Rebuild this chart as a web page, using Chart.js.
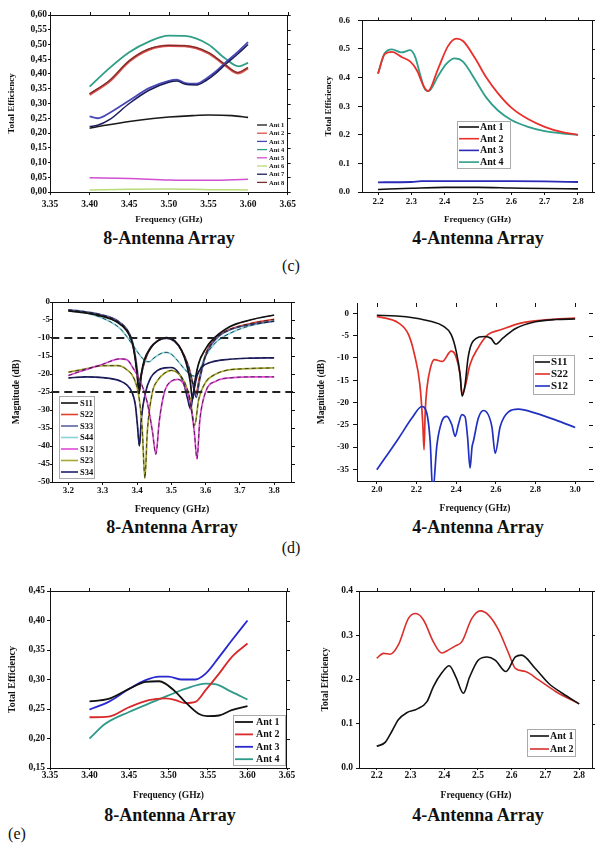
<!DOCTYPE html>
<html lang="en">
<head>
<meta charset="UTF-8">
<title>Total efficiency and S-parameters, 8- and 4-antenna arrays</title>
<script src="https://cdn.jsdelivr.net/npm/chart.js"></script>
<style>
  body { margin: 0; background: #fff; }
  #page { position: relative; width: 595px; height: 845px; overflow: hidden; background: #fff; }
  #page canvas { position: absolute; }
  .cap { position: absolute; font-family: "Liberation Serif", "Times New Roman", serif; color: #111; transform: translate(-50%, -50%); white-space: nowrap; }
  .sub { font-size: 18px; font-weight: bold; }
  .tag { font-size: 16px; }
</style>
</head>
<body>
<div id="page">
  <div class="cap sub" style="left:169px;top:238px">8-Antenna Array</div>
  <div class="cap sub" style="left:478px;top:238px">4-Antenna Array</div>
  <div class="cap tag" style="left:291px;top:266px">(c)</div>
  <div class="cap sub" style="left:172px;top:527px">8-Antenna Array</div>
  <div class="cap sub" style="left:478px;top:527px">4-Antenna Array</div>
  <div class="cap tag" style="left:291px;top:548px">(d)</div>
  <div class="cap sub" style="left:170px;top:815px">8-Antenna Array</div>
  <div class="cap sub" style="left:478px;top:815px">4-Antenna Array</div>
  <div class="cap tag" style="left:17px;top:834px">(e)</div>
</div>
<script>
// ---- (c) total efficiency, 8-antenna array ----
const c8FreqTicks = [3.35, 3.40, 3.45, 3.50, 3.55, 3.60, 3.65];
const c8EffTicks = [0, 0.05, 0.10, 0.15, 0.20, 0.25, 0.30, 0.35, 0.40, 0.45, 0.50, 0.55, 0.60];
const c8Ant1F = [3.40, 3.42, 3.45, 3.48, 3.50, 3.53, 3.55, 3.58, 3.60];
const c8Ant1E = [0.216, 0.226, 0.239, 0.249, 0.254, 0.259, 0.261, 0.259, 0.253];
const c8Ant2F = [3.40, 3.425, 3.45, 3.475, 3.50, 3.52, 3.55, 3.57, 3.587, 3.60];
const c8Ant2E = [0.330, 0.375, 0.443, 0.483, 0.496, 0.495, 0.471, 0.432, 0.403, 0.420];
const c8Ant8E = [0.333, 0.378, 0.445, 0.485, 0.497, 0.496, 0.473, 0.434, 0.405, 0.422];
const c8Ant4F = [3.40, 3.425, 3.45, 3.475, 3.50, 3.52, 3.55, 3.57, 3.588, 3.60];
const c8Ant4E = [0.357, 0.420, 0.474, 0.510, 0.530, 0.529, 0.500, 0.455, 0.426, 0.438];
const c8Ant3F = [3.40, 3.41, 3.425, 3.45, 3.475, 3.50, 3.51, 3.52, 3.535, 3.547, 3.56, 3.572, 3.587, 3.60];
const c8Ant3E = [0.256, 0.250, 0.268, 0.310, 0.352, 0.377, 0.381, 0.370, 0.367, 0.384, 0.410, 0.440, 0.475, 0.508];
const c8Ant7E = [0.222, 0.226, 0.245, 0.300, 0.345, 0.372, 0.376, 0.366, 0.363, 0.378, 0.404, 0.434, 0.468, 0.500];
const c8Ant5F = [3.40, 3.45, 3.50, 3.55, 3.60];
const c8Ant5E = [0.048, 0.046, 0.041, 0.040, 0.043];
const c8Ant6E = [0.007, 0.009, 0.010, 0.008, 0.007];

// ---- (c) total efficiency, 4-antenna array ----
const c4FreqTicks = [2.2, 2.3, 2.4, 2.5, 2.6, 2.7, 2.8];
const c4EffTicks = [0, 0.1, 0.2, 0.3, 0.4, 0.5, 0.6];
const c4Ant1F = [2.20, 2.30, 2.40, 2.50, 2.60, 2.70, 2.80];
const c4Ant1E = [0.009, 0.013, 0.016, 0.016, 0.014, 0.012, 0.011];
const c4Ant2F = [2.20, 2.22, 2.242, 2.272, 2.297, 2.317, 2.337, 2.35, 2.38, 2.41, 2.435, 2.455, 2.49, 2.525, 2.56, 2.60, 2.65, 2.70, 2.75, 2.80];
const c4Ant2E = [0.414, 0.482, 0.490, 0.471, 0.456, 0.425, 0.370, 0.353, 0.430, 0.510, 0.536, 0.528, 0.470, 0.400, 0.345, 0.295, 0.255, 0.228, 0.210, 0.200];
const c4Ant3F = [2.20, 2.30, 2.33, 2.40, 2.50, 2.60, 2.70, 2.80];
const c4Ant3E = [0.034, 0.035, 0.038, 0.038, 0.038, 0.038, 0.037, 0.035];
const c4Ant4F = [2.20, 2.22, 2.242, 2.27, 2.297, 2.312, 2.327, 2.342, 2.352, 2.38, 2.405, 2.43, 2.455, 2.49, 2.525, 2.56, 2.60, 2.65, 2.70, 2.75, 2.80];
const c4Ant4E = [0.414, 0.485, 0.499, 0.488, 0.496, 0.471, 0.408, 0.357, 0.353, 0.405, 0.448, 0.467, 0.456, 0.395, 0.330, 0.285, 0.252, 0.228, 0.213, 0.205, 0.200];

// ---- (d) S-parameters, 8-antenna array ----
const d8FreqTicks = [3.2, 3.3, 3.4, 3.5, 3.6, 3.7, 3.8];
const d8MagTicks = [0, -5, -10, -15, -20, -25, -30, -35, -40, -45, -50];
const d8LimitF = [3.15, 3.86];
const d8Limit10 = [-10, -10];
const d8Limit25 = [-25, -25];
const d8S11F = [3.20, 3.25, 3.30, 3.34, 3.37, 3.385, 3.395, 3.401, 3.406, 3.411, 3.42, 3.44, 3.46, 3.485, 3.51, 3.53, 3.545, 3.555, 3.562, 3.569, 3.58, 3.60, 3.615, 3.67, 3.73, 3.80];
const d8S11M = [-2.5, -3.0, -4.0, -5.5, -8.0, -11, -16, -21, -25.5, -21, -16.5, -12.8, -10.8, -9.9, -10.8, -13.5, -17.5, -22, -27, -22, -17, -13, -11, -6.9, -5.0, -3.6];
const d8S22F = [3.20, 3.25, 3.30, 3.34, 3.37, 3.385, 3.395, 3.402, 3.406, 3.411, 3.425, 3.44, 3.46, 3.485, 3.51, 3.53, 3.55, 3.563, 3.572, 3.581, 3.60, 3.63, 3.67, 3.73, 3.80];
const d8S22M = [-2.4, -2.9, -3.8, -5.2, -7.7, -10.7, -15.5, -21, -25, -21, -15.8, -12.7, -10.8, -10.0, -10.9, -13.4, -17.8, -22.5, -25.5, -21.5, -14.5, -10, -7.6, -6.0, -4.8];
const d8S33F = [3.20, 3.25, 3.30, 3.34, 3.37, 3.385, 3.395, 3.402, 3.407, 3.413, 3.425, 3.44, 3.46, 3.485, 3.51, 3.53, 3.55, 3.563, 3.573, 3.582, 3.60, 3.63, 3.67, 3.73, 3.80];
const d8S33M = [-2.2, -2.7, -3.6, -5.0, -7.5, -10.5, -15, -20, -24, -20, -15.5, -12.5, -10.8, -10.1, -11, -13.5, -18, -23, -26.5, -22, -15, -10.3, -7.8, -6.3, -5.3];
const d8S44F = [3.20, 3.25, 3.30, 3.35, 3.37, 3.39, 3.41, 3.425, 3.435, 3.45, 3.47, 3.485, 3.50, 3.52, 3.54, 3.56, 3.57, 3.58, 3.60, 3.63, 3.68, 3.73, 3.80];
const d8S44M = [-2.2, -3.0, -4.5, -7.3, -9.6, -12.3, -15, -16.4, -16.6, -15.5, -14.3, -14, -14.5, -16.5, -18.8, -20.4, -20.6, -19.5, -15, -11.2, -8.3, -6.6, -5.3];
const d8S12F = [3.20, 3.25, 3.30, 3.35, 3.37, 3.39, 3.41, 3.43, 3.445, 3.455, 3.465, 3.48, 3.50, 3.52, 3.54, 3.555, 3.567, 3.575, 3.583, 3.60, 3.63, 3.68, 3.74, 3.80];
const d8S12M = [-20.4, -18.8, -17.3, -15.8, -16, -18.6, -22, -28, -36, -42.3, -33, -25, -22, -21.5, -23.5, -28, -36, -43.6, -33, -25, -22, -21, -20.8, -20.8];
const d8S23F = [3.20, 3.25, 3.30, 3.345, 3.37, 3.39, 3.405, 3.415, 3.423, 3.43, 3.445, 3.46, 3.48, 3.50, 3.52, 3.54, 3.555, 3.568, 3.58, 3.60, 3.63, 3.66, 3.72, 3.80];
const d8S23M = [-19.5, -18.6, -17.7, -17.7, -18.8, -21, -26, -35, -49, -36, -25, -21.8, -19.8, -19, -19.8, -22.5, -27, -34.3, -27, -22.3, -20, -19, -18.5, -18.3];
const d8S34F = [3.20, 3.25, 3.30, 3.35, 3.37, 3.385, 3.395, 3.401, 3.407, 3.413, 3.425, 3.44, 3.46, 3.48, 3.50, 3.52, 3.535, 3.548, 3.556, 3.563, 3.575, 3.59, 3.613, 3.67, 3.73, 3.80];
const d8S34M = [-21.1, -20.8, -21.0, -21.9, -23.0, -25.0, -28.5, -34, -40, -32, -25, -21, -19, -18.3, -18.2, -19.5, -22.2, -27, -29.7, -26, -20.5, -18, -16.8, -15.9, -15.6, -15.5];

// ---- (d) S-parameters, 4-antenna array ----
const d4FreqTicks = [2.0, 2.2, 2.4, 2.6, 2.8, 3.0];
const d4MagTicks = [0, -5, -10, -15, -20, -25, -30, -35];
const d4S11F = [2.00, 2.10, 2.19, 2.27, 2.335, 2.375, 2.40, 2.42, 2.43, 2.445, 2.46, 2.485, 2.545, 2.575, 2.60, 2.635, 2.70, 2.80, 2.90, 3.00];
const d4S11M = [-0.45, -0.6, -1.05, -1.8, -2.9, -4.8, -8.5, -13.8, -18.6, -16, -10, -6.3, -5.2, -5.6, -6.9, -5.6, -3.4, -1.9, -1.4, -1.3];
const d4S22F = [2.00, 2.11, 2.16, 2.19, 2.217, 2.232, 2.238, 2.244, 2.252, 2.27, 2.29, 2.33, 2.375, 2.395, 2.42, 2.43, 2.445, 2.47, 2.51, 2.56, 2.625, 2.725, 2.85, 3.00];
const d4S22M = [-0.7, -2.2, -4.8, -9.3, -16, -25, -30.6, -22, -17, -12.3, -10.4, -10.8, -8.5, -9.3, -13.8, -18.2, -16.5, -11.5, -7.8, -4.8, -3.7, -2.2, -1.5, -1.1];
const d4S12F = [2.00, 2.11, 2.177, 2.227, 2.252, 2.269, 2.282, 2.303, 2.328, 2.353, 2.378, 2.395, 2.411, 2.429, 2.445, 2.458, 2.47, 2.48, 2.487, 2.512, 2.538, 2.58, 2.597, 2.622, 2.664, 2.714, 2.80, 2.90, 3.00];
const d4S12M = [-35.1, -28, -23.5, -20.9, -22.4, -28.7, -40, -29.5, -24.2, -23.1, -25, -27.6, -25, -22.7, -23.2, -28, -34.7, -30, -28.7, -23.5, -21.8, -25.4, -31.4, -25.4, -22.1, -21.5, -22.4, -23.9, -25.6];

// ---- (e) total efficiency, 8-antenna array ----
const e8FreqTicks = [3.35, 3.40, 3.45, 3.50, 3.55, 3.60, 3.65];
const e8EffTicks = [0.15, 0.20, 0.25, 0.30, 0.35, 0.40, 0.45];
const e8Ant1F = [3.40, 3.424, 3.45, 3.471, 3.488, 3.496, 3.509, 3.521, 3.538, 3.549, 3.564, 3.58, 3.60];
const e8Ant1E = [0.263, 0.267, 0.284, 0.296, 0.297, 0.293, 0.279, 0.262, 0.242, 0.238, 0.239, 0.248, 0.255];
const e8Ant2F = [3.40, 3.424, 3.45, 3.475, 3.496, 3.509, 3.521, 3.534, 3.547, 3.564, 3.58, 3.60];
const e8Ant2E = [0.236, 0.237, 0.253, 0.265, 0.268, 0.265, 0.260, 0.262, 0.282, 0.310, 0.338, 0.361];
const e8Ant3F = [3.40, 3.424, 3.45, 3.471, 3.488, 3.50, 3.517, 3.534, 3.547, 3.564, 3.58, 3.60];
const e8Ant3E = [0.249, 0.262, 0.284, 0.299, 0.305, 0.305, 0.300, 0.300, 0.310, 0.338, 0.366, 0.400];
const e8Ant4F = [3.40, 3.42, 3.45, 3.475, 3.50, 3.521, 3.547, 3.559, 3.58, 3.60];
const e8Ant4E = [0.200, 0.225, 0.245, 0.259, 0.273, 0.284, 0.293, 0.292, 0.279, 0.266];

// ---- (e) total efficiency, 4-antenna array ----
const e4FreqTicks = [2.2, 2.3, 2.4, 2.5, 2.6, 2.7, 2.8];
const e4EffTicks = [0, 0.1, 0.2, 0.3, 0.4];
const e4Ant1F = [2.20, 2.225, 2.245, 2.264, 2.289, 2.319, 2.349, 2.368, 2.393, 2.415, 2.435, 2.457, 2.475, 2.50, 2.527, 2.551, 2.583, 2.611, 2.629, 2.67, 2.71, 2.75, 2.80];
const e4Ant1E = [0.049, 0.058, 0.083, 0.109, 0.125, 0.133, 0.150, 0.184, 0.215, 0.231, 0.205, 0.169, 0.205, 0.243, 0.251, 0.244, 0.218, 0.251, 0.255, 0.225, 0.191, 0.169, 0.145];
const e4Ant2F = [2.20, 2.22, 2.24, 2.264, 2.294, 2.316, 2.339, 2.368, 2.393, 2.413, 2.433, 2.452, 2.482, 2.507, 2.532, 2.561, 2.591, 2.611, 2.641, 2.68, 2.73, 2.80];
const e4Ant2E = [0.248, 0.259, 0.257, 0.278, 0.338, 0.349, 0.334, 0.285, 0.260, 0.267, 0.276, 0.285, 0.338, 0.355, 0.345, 0.312, 0.259, 0.225, 0.218, 0.199, 0.173, 0.145];

const SERIF = '"Liberation Serif", "Times New Roman", serif';
const page = document.getElementById('page');
const fmt2c = v => v.toFixed(2).replace('.', ',');
const fmt2 = v => v.toFixed(2);
const fmt1 = v => v.toFixed(1);
const fmt0 = v => String(v);

function makePanel(p) {
  const [cx, cy, cw, ch] = p.box;
  const [pl, pt, pr, pb] = p.plot;
  const canvas = document.createElement('canvas');
  canvas.width = cw;
  canvas.height = ch;
  canvas.style.left = cx + 'px';
  canvas.style.top = cy + 'px';
  page.appendChild(canvas);

  const font = s => ({ family: SERIF, size: s, weight: 'bold' });
  const axis = (a, isX) => ({
    type: 'linear',
    min: a.min,
    max: a.max,
    afterBuildTicks: s => { s.ticks = a.ticks.map(v => ({ value: v })); },
    afterFit: s => { if (isX) s.height = cy + ch - pb; else s.width = pl - cx; },
    grid: { drawOnChartArea: false, tickLength: a.tl, color: '#111', lineWidth: 1 },
    border: { display: true, color: '#111', width: 1 },
    ticks: { color: '#111', font: font(a.size), padding: a.pad, autoSkip: false, maxRotation: 0, callback: v => a.fmt(v) },
    title: { display: true, text: a.title, color: '#111', font: font(a.titleSize), padding: 0 }
  });

  const datasets = p.series.map(s => ({
    label: s.label,
    data: s.f.map((f, i) => ({ x: f, y: s.v[i] })),
    borderColor: s.color,
    borderWidth: s.w || 1.6,
    borderDash: s.dash || [],
    pointRadius: 0,
    cubicInterpolationMode: 'monotone',
    fill: false,
    order: s.order === undefined ? 1 : s.order,
    clip: 1
  }));

  // box frame with mirrored ticks on top and right
  const frame = {
    id: 'frame',
    afterDraw(chart) {
      const { left, top, right, bottom } = chart.chartArea;
      const ctx = chart.ctx;
      const xs = chart.scales.x, ys = chart.scales.y;
      ctx.save();
      ctx.strokeStyle = '#111';
      ctx.lineWidth = 1;
      ctx.beginPath();
      if (p.frameLines) {
        ctx.moveTo(left, Math.round(top) + 0.5); ctx.lineTo(right, Math.round(top) + 0.5);
        ctx.moveTo(Math.round(right) - 0.5, top); ctx.lineTo(Math.round(right) - 0.5, bottom);
      }
      const tk = p.frameTick;
      xs.ticks.forEach(t => {
        const px = Math.round(xs.getPixelForValue(t.value)) + 0.5;
        ctx.moveTo(px, top); ctx.lineTo(px, top - tk);
      });
      ys.ticks.forEach(t => {
        const py = Math.round(ys.getPixelForValue(t.value)) + 0.5;
        ctx.moveTo(right, py); ctx.lineTo(right + tk, py);
      });
      ctx.stroke();
      ctx.restore();
    }
  };

  // legend drawn inside the plot
  const lg = p.legend;
  const legend = {
    id: 'innerLegend',
    afterDatasetsDraw(chart) {
      const ctx = chart.ctx;
      ctx.save();
      if (lg.box) {
        const [bx, by, bw, bh] = lg.box;
        ctx.fillStyle = '#fff';
        ctx.fillRect(bx - cx, by - cy, bw, bh);
        ctx.strokeStyle = '#aaa';
        ctx.lineWidth = 1;
        ctx.strokeRect(Math.round(bx - cx) + 0.5, Math.round(by - cy) + 0.5, bw, bh);
      }
      ctx.font = `bold ${lg.size}px ${SERIF}`;
      ctx.textBaseline = 'middle';
      ctx.textAlign = 'left';
      lg.labels.forEach((label, i) => {
        const s = p.series.find(d => d.label === label);
        const y = lg.y - cy + i * lg.step;
        const x = lg.x - cx;
        ctx.strokeStyle = s.color;
        ctx.lineWidth = lg.lw || 1.6;
        ctx.beginPath();
        ctx.moveTo(x, y); ctx.lineTo(x + lg.len, y);
        ctx.stroke();
        ctx.fillStyle = '#111';
        ctx.fillText(label, x + lg.len + lg.gap, y + 0.5);
      });
      ctx.restore();
    }
  };

  new Chart(canvas, {
    type: 'line',
    data: { datasets },
    options: {
      responsive: false,
      animation: false,
      events: [],
      layout: { padding: { top: pt - cy, right: cx + cw - pr, left: 0, bottom: 0 } },
      scales: { x: axis(p.x, true), y: axis(p.y, false) },
      plugins: { legend: { display: false }, tooltip: { enabled: false } }
    },
    plugins: [frame, legend]
  });
}

// (c) 8-antenna
makePanel({
  box: [6, 5, 294, 220], plot: [50, 15, 288, 192],
  frameLines: true, frameTick: 3,
  x: { min: 3.35, max: 3.65, ticks: c8FreqTicks, fmt: fmt2, size: 9.5, tl: 3, pad: 4, title: 'Frequency (GHz)', titleSize: 9 },
  y: { min: 0, max: 0.6, ticks: c8EffTicks, fmt: fmt2c, size: 9.5, tl: 2, pad: 1, title: 'Total Efficiency', titleSize: 9 },
  series: [
    { label: 'Ant 8', f: c8Ant2F, v: c8Ant8E, color: '#7a2e2e', w: 1.3 },
    { label: 'Ant 2', f: c8Ant2F, v: c8Ant2E, color: '#e0504a', w: 2.6, order: 2 },
    { label: 'Ant 7', f: c8Ant3F, v: c8Ant7E, color: '#1c1c5c', w: 1.5 },
    { label: 'Ant 3', f: c8Ant3F, v: c8Ant3E, color: '#4848b8', w: 1.8 },
    { label: 'Ant 4', f: c8Ant4F, v: c8Ant4E, color: '#2f9e86', w: 1.8 },
    { label: 'Ant 1', f: c8Ant1F, v: c8Ant1E, color: '#1a1a1a', w: 1.6 },
    { label: 'Ant 5', f: c8Ant5F, v: c8Ant5E, color: '#d24fd0', w: 1.5 },
    { label: 'Ant 6', f: c8Ant5F, v: c8Ant6E, color: '#b8dc7a', w: 1.5 }
  ],
  legend: { x: 257, y: 125, step: 8.2, len: 10, gap: 2, size: 6.5, lw: 1.3,
    labels: ['Ant 1', 'Ant 2', 'Ant 3', 'Ant 4', 'Ant 5', 'Ant 6', 'Ant 7', 'Ant 8'] }
});

// (c) 4-antenna
makePanel({
  box: [323, 7, 272, 218], plot: [362, 17, 593, 192],
  frameLines: true, frameTick: 3,
  x: { min: 2.152, max: 2.845, ticks: c4FreqTicks, fmt: fmt1, size: 9, tl: 3, pad: 1, title: 'Frequency (GHz)', titleSize: 9 },
  y: { min: 0, max: 0.6, ticks: c4EffTicks, fmt: fmt1, size: 9, tl: 4, pad: 8, title: 'Total Efficiency', titleSize: 9 },
  series: [
    { label: 'Ant 2', f: c4Ant2F, v: c4Ant2E, color: '#e8302c', w: 1.8 },
    { label: 'Ant 4', f: c4Ant4F, v: c4Ant4E, color: '#2f9e8a', w: 1.8 },
    { label: 'Ant 3', f: c4Ant3F, v: c4Ant3E, color: '#2a2ab8', w: 1.8 },
    { label: 'Ant 1', f: c4Ant1F, v: c4Ant1E, color: '#111111', w: 1.6 }
  ],
  legend: { x: 459, y: 127, step: 11.7, len: 20, gap: 1, size: 10, lw: 1.6, box: [457, 121, 53, 47],
    labels: ['Ant 1', 'Ant 2', 'Ant 3', 'Ant 4'] }
});

// (d) 8-antenna: coloured curves with black dashed overlays, -10 / -25 dB guide lines
const d8Curves = [
  { label: 'S12', f: d8S12F, v: d8S12M, color: '#e24ad8' },
  { label: 'S23', f: d8S23F, v: d8S23M, color: '#a8a830' },
  { label: 'S34', f: d8S34F, v: d8S34M, color: '#202070' },
  { label: 'S11', f: d8S11F, v: d8S11M, color: '#111111' },
  { label: 'S33', f: d8S33F, v: d8S33M, color: '#5a64a8' },
  { label: 'S44', f: d8S44F, v: d8S44M, color: '#86d4dc' },
  { label: 'S22', f: d8S22F, v: d8S22M, color: '#e2402a' }
];
makePanel({
  box: [11, 292, 286, 223], plot: [52, 302, 292, 482],
  frameLines: true, frameTick: 3,
  x: { min: 3.152, max: 3.852, ticks: d8FreqTicks, fmt: fmt1, size: 9, tl: 3, pad: 0, title: 'Frequency (GHz)', titleSize: 10 },
  y: { min: -50, max: 0, ticks: d8MagTicks, fmt: fmt0, size: 9, tl: 2, pad: 0, title: 'Magnitude (dB)', titleSize: 9.5 },
  series: [
    { label: 'lim10', f: d8LimitF, v: d8Limit10, color: '#222', w: 2, dash: [8, 5], order: 0 },
    { label: 'lim25', f: d8LimitF, v: d8Limit25, color: '#222', w: 2, dash: [8, 5], order: 0 },
    ...d8Curves.map(s => ({ ...s, label: s.label + '-sim', color: 'rgba(20,20,20,0.8)', w: 0.9, dash: [4, 3], order: 0 })),
    ...d8Curves.map(s => ({ ...s, w: 1.7, order: 1 }))
  ],
  legend: { x: 61, y: 403, step: 11.5, len: 17, gap: 2, size: 8.5, lw: 1.6, box: [59, 396, 35, 82],
    labels: ['S11', 'S22', 'S33', 'S44', 'S12', 'S23', 'S34'] }
});

// (d) 4-antenna
makePanel({
  box: [316, 293, 279, 221], plot: [357, 303, 593, 481],
  frameLines: false, frameTick: -4,
  x: { min: 1.9, max: 3.09, ticks: d4FreqTicks, fmt: fmt1, size: 9, tl: 3, pad: 0, title: 'Frequency (GHz)', titleSize: 9.5 },
  y: { min: -37.6, max: 2.3, ticks: d4MagTicks, fmt: fmt0, size: 9, tl: 4, pad: 4, title: 'Magnitude (dB)', titleSize: 9.5 },
  series: [
    { label: 'S11', f: d4S11F, v: d4S11M, color: '#111111', w: 1.6 },
    { label: 'S12', f: d4S12F, v: d4S12M, color: '#2030c0', w: 1.7 },
    { label: 'S22', f: d4S22F, v: d4S22M, color: '#e03028', w: 1.7 }
  ],
  legend: { x: 535, y: 362, step: 12, len: 15, gap: 1, size: 11, lw: 1.6, box: [533, 355, 41, 39],
    labels: ['S11', 'S22', 'S12'] }
});

// (e) 8-antenna
makePanel({
  box: [6, 581, 294, 220], plot: [50, 591, 287, 768],
  frameLines: true, frameTick: 3,
  x: { min: 3.35, max: 3.65, ticks: e8FreqTicks, fmt: fmt2, size: 9.5, tl: 2, pad: 0, title: 'Frequency (GHz)', titleSize: 9.5 },
  y: { min: 0.15, max: 0.45, ticks: e8EffTicks, fmt: fmt2c, size: 9.5, tl: 3, pad: 2, title: 'Total Efficiency', titleSize: 10 },
  series: [
    { label: 'Ant 1', f: e8Ant1F, v: e8Ant1E, color: '#111111', w: 1.8 },
    { label: 'Ant 2', f: e8Ant2F, v: e8Ant2E, color: '#d8282a', w: 1.8 },
    { label: 'Ant 3', f: e8Ant3F, v: e8Ant3E, color: '#2828d0', w: 1.8 },
    { label: 'Ant 4', f: e8Ant4F, v: e8Ant4E, color: '#2f9a8a', w: 1.8 }
  ],
  legend: { x: 235, y: 722, step: 12.4, len: 18, gap: 3, size: 10, lw: 1.8, box: [233, 715, 52, 50],
    labels: ['Ant 1', 'Ant 2', 'Ant 3', 'Ant 4'] }
});

// (e) 4-antenna
makePanel({
  box: [320, 581, 275, 220], plot: [359, 591, 593, 768],
  frameLines: true, frameTick: 3,
  x: { min: 2.1475, max: 2.841, ticks: e4FreqTicks, fmt: fmt1, size: 9.5, tl: 2, pad: 0, title: 'Frequency (GHz)', titleSize: 9.5 },
  y: { min: 0, max: 0.4, ticks: e4EffTicks, fmt: fmt1, size: 9.5, tl: 3, pad: 3, title: 'Total Efficiency', titleSize: 9.5 },
  series: [
    { label: 'Ant 1', f: e4Ant1F, v: e4Ant1E, color: '#111111', w: 1.6 },
    { label: 'Ant 2', f: e4Ant2F, v: e4Ant2E, color: '#d8302c', w: 1.6 }
  ],
  legend: { x: 530, y: 736, step: 13, len: 19, gap: 1, size: 10, lw: 1.6, box: [527, 729, 48, 27],
    labels: ['Ant 1', 'Ant 2'] }
});
</script>
</body>
</html>
